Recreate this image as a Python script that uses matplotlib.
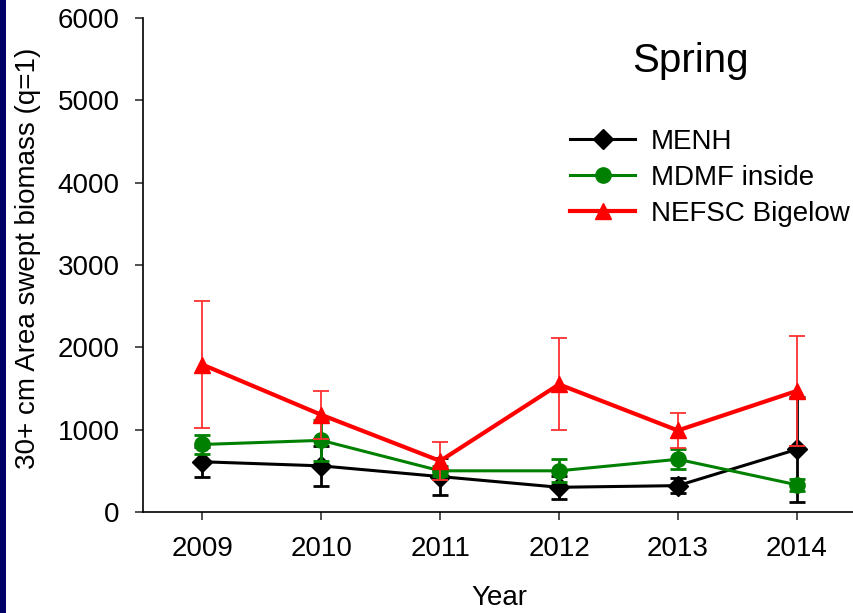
#!/usr/bin/env python3
# -*- coding: utf-8 -*-

import numpy as np
import matplotlib
matplotlib.use('Agg')
import matplotlib.pyplot as plt
from matplotlib.patches import Rectangle

plt.rcParams['font.family'] = ['Liberation Sans', 'DejaVu Sans']

years = [2009, 2010, 2011, 2012, 2013, 2014]

# 春季调查：面积扫过法生物量（30cm以上）及标准误
menh = [610, 560, 430, 300, 320, 760]
menh_err = [180, 240, 220, 140, 90, 640]
mdmf = [820, 870, 500, 500, 640, 330]
mdmf_err = [120, 250, 60, 140, 120, 70]
nefsc = [1790, 1180, 620, 1550, 990, 1470]
nefsc_err = [770, 290, 230, 560, 210, 670]

fig = plt.figure(figsize=(8.54, 6.13), dpi=100)
ax = fig.add_axes([0.1675, 0.1648, 0.835, 0.8058])

# 左侧深蓝色边条
fig.patches.append(Rectangle((0, 0), 6/854, 1, transform=fig.transFigure,
                             facecolor='#000066', edgecolor='none'))

ax.errorbar(years, menh, yerr=menh_err, color='black', lw=2.2, marker='D', ms=10,
            capsize=6, elinewidth=2, capthick=2, label='MENH', zorder=3)
ax.errorbar(years, mdmf, yerr=mdmf_err, color='green', lw=2.2, marker='o', ms=11,
            capsize=6, elinewidth=2, capthick=2, label='MDMF inside', zorder=4)
ax.errorbar(years, nefsc, yerr=nefsc_err, color='red', lw=3, marker='^', ms=12,
            capsize=6, elinewidth=1.3, capthick=1.3, ecolor='#ff3030',
            label='NEFSC Bigelow', zorder=5)

ax.set_xlim(2008.5, 2014.5)
ax.set_ylim(0, 6000)
ax.set_xticks(years)
ax.set_yticks(np.arange(0, 6001, 1000))
ax.spines['top'].set_visible(False)
ax.spines['right'].set_visible(False)
for s in ['left', 'bottom']:
    ax.spines[s].set_linewidth(1.2)
ax.tick_params(direction='out', length=6, width=1.2, color='#333333',
               labelsize=20)
ax.tick_params(axis='x', pad=11)
ax.tick_params(axis='y', pad=11)

ax.set_xlabel('Year', fontsize=20, labelpad=17)
ax.set_ylabel('30+ cm Area swept biomass (q=1)', fontsize=20)
ax.yaxis.set_label_coords(-0.143, 0.513)

ax.text(0.767, 0.913, 'Spring', transform=ax.transAxes, fontsize=29,
        ha='center', va='center')

handles, labels = ax.get_legend_handles_labels()
handles = [h[0] for h in handles]
ax.legend(handles, labels, loc='upper left', bbox_to_anchor=(0.599, 0.775),
          frameon=False, fontsize=20, handlelength=2.35, handletextpad=0.55,
          labelspacing=0.35, borderpad=0, borderaxespad=0)

fig.savefig('out.png', dpi=100)
